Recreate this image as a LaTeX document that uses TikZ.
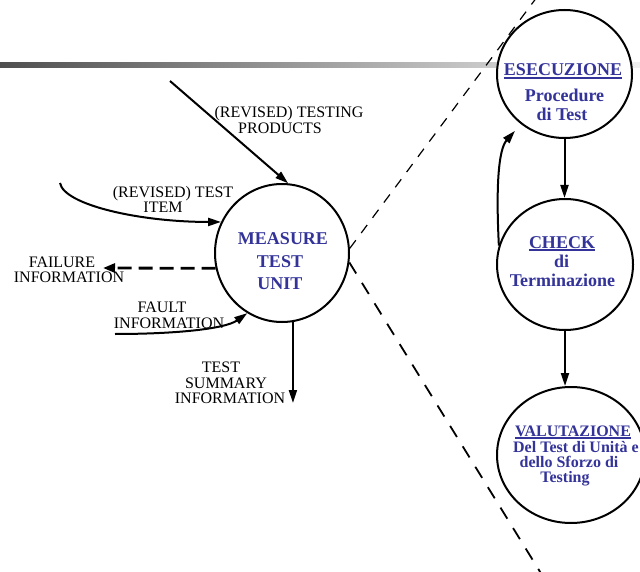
\documentclass[tikz,border=0pt]{standalone}
\usepackage{fontspec}
\setmainfont{Liberation Serif}
\usetikzlibrary{shapes.geometric,arrows.meta}
\definecolor{procblue}{RGB}{51,51,153}
% underlined heading word with a thicker rule
\newcommand{\headword}[1]{\setbox0\hbox{#1}\rlap{\rule[-2.6pt]{\wd0}{1.3pt}}\box0}

\begin{document}
\begin{tikzpicture}[x=1pt,y=-1pt,
  bubble/.style={draw, ellipse, line width=2pt, fill=white, inner sep=0pt},
  arr/.style={line width=2pt, -{Triangle[length=13pt,width=8pt]}},
  dasharr/.style={line width=2.8pt, dash pattern=on 14pt off 7pt, -{Triangle[length=12pt,width=9pt]}},
  zoomup/.style={line width=1.2pt, dash pattern=on 10pt off 9pt},
  zoomdown/.style={line width=1.8pt, dash pattern=on 13pt off 11pt},
  ptxt/.style={text=procblue, font=\fontsize{18}{18}\selectfont\bfseries, anchor=base, inner sep=0pt},
  vtxt/.style={text=procblue, font=\fontsize{16}{16}\selectfont\bfseries, anchor=base, inner sep=0pt},
  lbl/.style={font=\fontsize{16}{16}\selectfont, anchor=base, inner sep=0pt},
]
\useasboundingbox (0,0) rectangle (640,572);

% title bar
\shade[left color=black!69, right color=black!6] (0,63) rectangle (640,68);

% free ends of the zoom lines
\coordinate (zTop) at (537,-3);
\coordinate (zBot) at (542,575);

% processes
\node[bubble, minimum width=134pt, minimum height=138pt] (measure) at (282,253) {};
\node[bubble, minimum width=135pt, minimum height=128pt] (esec) at (564.5,74) {};
\node[bubble, minimum width=136pt, minimum height=131pt] (check) at (565,264.5) {};
\node[bubble, minimum width=148pt, minimum height=136pt] (valut) at (571,455) {};

\draw[zoomup] (measure.4) -- (zTop);
\draw[zoomdown] (measure.352) -- (zBot);

% process texts
\node[ptxt] (mt1) at (283,245) {MEASURE};
\node[ptxt] (mt2) at (280,267) {TEST};
\node[ptxt] (mt3) at (280,290) {UNIT};

\node[ptxt] (et1) at (563,76) {\headword{ESECUZIONE}};
\node[ptxt] (et2) at (564.5,102) {Procedure};
\node[ptxt] (et3) at (562,121) {di Test};

\node[ptxt] (ct1) at (562,248) {\headword{CHECK}};
\node[ptxt] (ct2) at (561.5,267) {di};
\node[ptxt] (ct3) at (562.5,287) {Terminazione};

\node[vtxt] (vt1) at (573,436) {\headword{VALUTAZIONE}};
\node[vtxt] (vt2) at (576,452) {Del Test di Unità e};
\node[vtxt] (vt3) at (569,467) {dello Sforzo di};
\node[vtxt] (vt4) at (565,482) {Testing};

% flow labels
\node[lbl] (ltp1) at (289,118) {(REVISED) TESTING};
\node[lbl] (ltp2) at (280,134) {PRODUCTS};
\node[lbl] (lti1) at (173,198) {(REVISED) TEST};
\node[lbl] (lti2) at (163,213) {ITEM};
\node[lbl] (lfa1) at (62,267) {FAILURE};
\node[lbl] (lfa2) at (69,282) {INFORMATION};
\node[lbl] (lfu1) at (162,312) {FAULT};
\node[lbl] (lfu2) at (169,328) {INFORMATION};
\node[lbl] (lsu1) at (221,372) {TEST};
\node[lbl] (lsu2) at (226,388) {SUMMARY};
\node[lbl] (lsu3) at (230,403) {INFORMATION};

% data flows of the unit process
\coordinate (tpIn) at (170,81);
\coordinate (tiIn) at (60,183);
\coordinate (faOut) at (103,268);
\coordinate (fuIn) at (115,334);
\coordinate (suOut) at (293,403);

\draw[arr] (tpIn) -- (measure.85);
\draw[arr] (tiIn) .. controls (64,205) and (140,222) .. (measure.153);
\draw[dasharr] (measure.193) -- (faOut);
\draw[arr] (fuIn) .. controls (175,334) and (225,329) .. (measure.240);
\draw[arr] (measure.279) -- (measure.279 |- suOut);

% testing cycle
\draw[arr] (esec.south) -- (esec.south |- check.north);
\draw[arr] (check.south) -- (check.south |- valut.north);
\draw[arr, shorten >=9pt] (check.164) .. controls (496,190) and (498,150) .. (esec.229);
\end{tikzpicture}
\end{document}
